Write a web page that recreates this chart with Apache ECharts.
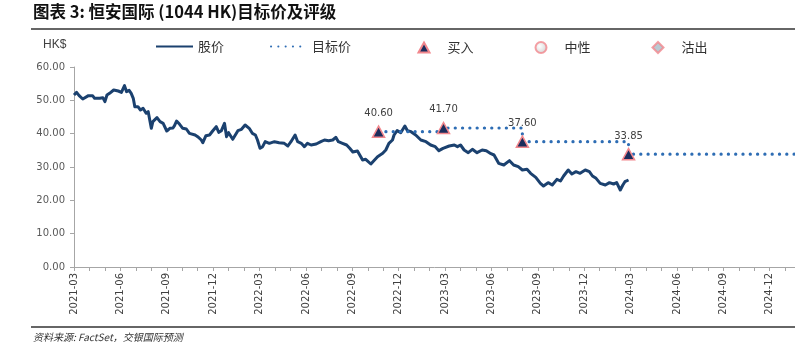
<!DOCTYPE html>
<html><head><meta charset="utf-8">
<script src="https://cdn.jsdelivr.net/npm/echarts@6/dist/echarts.min.js"></script>
<style>html,body{margin:0;padding:0;background:#fff}#c{width:795px;height:353px}</style>
</head><body><div id="c"></div>
<script>
const titleText = '图表 3: 恒安国际 (1044 HK)目标价及评级';
const sourceText = '资料来源: FactSet，交银国际预测';
const unitText = 'HK$';
const seriesNames = ['股价', '目标价', '买入', '中性', '沽出'];

const priceDates = [
'2021-03-01','2021-03-06','2021-03-11','2021-03-18','2021-03-29','2021-04-07','2021-04-11','2021-04-21','2021-04-27','2021-05-01',
'2021-05-05','2021-05-10','2021-05-18','2021-05-27','2021-06-03','2021-06-09','2021-06-13','2021-06-18','2021-06-22','2021-06-26',
'2021-06-29','2021-07-05','2021-07-10','2021-07-15','2021-07-21','2021-07-25','2021-07-31','2021-08-04','2021-08-12','2021-08-18',
'2021-08-24','2021-08-31','2021-09-07','2021-09-13','2021-09-16','2021-09-20','2021-09-26','2021-10-02','2021-10-09','2021-10-15',
'2021-10-26','2021-11-01','2021-11-08','2021-11-11','2021-11-17','2021-11-24','2021-11-30','2021-12-07','2021-12-12','2021-12-17',
'2021-12-23','2021-12-27','2022-01-01','2022-01-09','2022-01-19','2022-01-26','2022-02-03','2022-02-11','2022-02-17','2022-02-23',
'2022-02-27','2022-03-02','2022-03-07','2022-03-12','2022-03-20','2022-03-30','2022-04-09','2022-04-19','2022-04-26','2022-05-02',
'2022-05-05','2022-05-10','2022-05-15','2022-05-22','2022-05-28','2022-06-04','2022-06-11','2022-06-21','2022-06-30','2022-07-07',
'2022-07-15','2022-07-23','2022-07-29','2022-08-04','2022-08-12','2022-08-20','2022-08-26','2022-09-02','2022-09-11','2022-09-21',
'2022-09-27','2022-10-07','2022-10-11','2022-10-20','2022-10-30','2022-11-06','2022-11-12','2022-11-19','2022-11-22','2022-11-28',
'2022-12-05','2022-12-13','2022-12-18','2022-12-25','2023-01-04','2023-01-14','2023-01-24','2023-02-03','2023-02-12','2023-02-19',
'2023-02-27','2023-03-09','2023-03-19','2023-03-25','2023-04-01','2023-04-08','2023-04-16','2023-04-24','2023-05-03','2023-05-13',
'2023-05-21','2023-05-30','2023-06-06','2023-06-15','2023-06-25','2023-07-06','2023-07-14','2023-07-23','2023-07-31','2023-08-10',
'2023-08-17','2023-08-27','2023-09-06','2023-09-12','2023-09-21','2023-09-29','2023-10-08','2023-10-15','2023-10-21','2023-10-30',
'2023-11-07','2023-11-15','2023-11-23','2023-12-03','2023-12-11','2023-12-17','2023-12-24','2024-01-02','2024-01-12','2024-01-20',
'2024-01-28','2024-02-04','2024-02-11','2024-02-16','2024-02-20','2024-02-27'
];
const priceValues = [
51.6,52.4,51.4,50.4,51.4,51.4,50.6,50.6,50.8,49.6,
51.6,52.1,53.1,52.8,52.4,54.4,52.6,53.0,52.1,50.6,
48.1,48.1,47.1,47.6,46.1,46.6,41.6,43.6,44.8,43.6,
43.1,40.8,41.6,41.7,42.4,43.8,42.8,41.6,41.4,40.1,
39.6,39.1,38.1,37.3,39.4,39.6,40.8,42.1,40.4,40.9,
43.1,39.1,40.3,38.3,40.9,41.3,42.6,41.6,40.1,39.6,
38.1,35.6,36.1,37.6,37.1,37.6,37.3,37.1,36.3,37.6,
37.3,39.6,37.6,37.1,36.1,37.1,36.6,36.9,37.6,38.1,
37.9,38.1,38.9,37.6,37.1,36.6,35.6,34.5,34.8,32.1,
32.3,30.9,31.6,33.1,34.1,35.1,37.1,38.1,39.6,40.9,
40.3,42.3,40.9,40.6,39.6,38.1,37.6,36.6,36.1,34.9,
35.6,36.3,36.6,36.1,36.6,35.1,34.3,35.3,34.3,35.1,
34.9,34.0,33.6,31.1,30.6,31.9,30.6,30.1,29.1,29.3,
28.1,26.9,25.1,24.3,25.3,24.6,26.3,25.8,27.3,29.1,
27.9,28.6,28.1,29.1,28.6,27.3,26.6,25.1,24.6,25.3,
24.9,25.3,23.1,24.6,25.6,26.1
];
const ratingDates = ['2022-10-22', '2023-02-28', '2023-07-31', '2024-02-27'];
const targetPrices = [40.60, 41.70, 37.60, 33.85];
const targetEndDate = '2025-01-20';
const yMin = 0, yMax = 60, yStep = 10;

function monthIndex(s) {
  const p = s.split('-').map(Number);
  return (p[0] - 2021) * 12 + (p[1] - 3) + (p[2] - 1) / 30;
}
function monthLabel(v) {
  const t = 2 + Math.round(v);
  const y = 2021 + Math.floor(t / 12);
  const m = t % 12 + 1;
  return y + '-' + String(m).padStart(2, '0');
}

const priceData = priceDates.map((d, i) => [monthIndex(d), priceValues[i]]);
const buyData = ratingDates.map((d, i) => [monthIndex(d), targetPrices[i]]);
const xEnd = monthIndex(targetEndDate);
const targetData = buyData.concat([[xEnd, targetPrices[targetPrices.length - 1]]]);

const pink = '#f2878d';
const legendText = {fontFamily: 'Noto Sans CJK SC', fontSize: 13, color: '#333'};
const hiddenSym = {opacity: 0, color: 'transparent', borderWidth: 0};

const chart = echarts.init(document.getElementById('c'), null, {renderer: 'canvas'});
chart.setOption({
  animation: false,
  backgroundColor: '#fff',
  grid: {left: 74, top: 67, right: 0, height: 200, containLabel: false},
  legend: [
    {data: [seriesNames[0]], left: 150, top: 35, itemWidth: 37, itemHeight: 14, itemStyle: hiddenSym, textStyle: legendText, selectedMode: false},
    {data: [seriesNames[1]], left: 265, top: 35, itemWidth: 36, itemHeight: 14, itemStyle: hiddenSym, textStyle: legendText, selectedMode: false},
    {data: [seriesNames[2]], left: 412.5, top: 36, itemWidth: 11, itemHeight: 10, textStyle: Object.assign({padding: [0, 0, 0, 13]}, legendText), selectedMode: false},
    {data: [seriesNames[3]], left: 529.5, top: 36, itemWidth: 11, itemHeight: 11, textStyle: Object.assign({padding: [0, 0, 0, 13]}, legendText), selectedMode: false},
    {data: [seriesNames[4]], left: 646.5, top: 36, itemWidth: 11, itemHeight: 11, textStyle: Object.assign({padding: [0, 0, 0, 13]}, legendText), selectedMode: false}
  ],
  xAxis: {
    type: 'value', min: 0, max: xEnd, interval: 1,
    splitLine: {show: false},
    axisLine: {show: true, lineStyle: {color: '#a6a6a6', width: 1}},
    axisTick: {show: true, length: 4, lineStyle: {color: '#a6a6a6'}},
    axisLabel: {
      rotate: 90, margin: 6, fontFamily: 'DejaVu Sans', fontSize: 10, color: '#404040',
      showMinLabel: true, showMaxLabel: true, hideOverlap: false,
      formatter: v => (Math.abs(v - Math.round(v)) < 1e-6 && Math.round(v) % 3 === 0 ? monthLabel(v) : '')
    }
  },
  yAxis: {
    type: 'value', min: yMin, max: yMax, interval: yStep,
    splitLine: {show: false},
    axisLine: {show: true, lineStyle: {color: '#a6a6a6', width: 1}},
    axisTick: {show: true, length: 4, lineStyle: {color: '#a6a6a6'}},
    axisLabel: {margin: 9, fontFamily: 'DejaVu Sans', fontSize: 10, color: '#595959', formatter: v => v.toFixed(2)}
  },
  series: [
    {
      name: seriesNames[0], type: 'line', data: priceData, symbol: 'none', smooth: false,
      lineStyle: {color: '#1b416f', width: 3, join: 'round'}, itemStyle: {color: '#1b416f'}, z: 2
    },
    {
      name: seriesNames[1], type: 'line', data: targetData, symbol: 'none', step: 'end',
      lineStyle: {color: '#2e6db4', width: 3.2, type: [0.1, 7.2], cap: 'round'}, itemStyle: {color: '#2e6db4'}, z: 3
    },
    {
      name: seriesNames[2], type: 'scatter', data: buyData, symbol: 'triangle', symbolSize: [12, 11],
      itemStyle: {color: '#1c2d5c', borderColor: pink, borderWidth: 1.5, opacity: 1},
      label: {show: true, position: 'top', distance: 7, fontFamily: 'DejaVu Sans', fontSize: 10, color: '#404040',
        formatter: p => p.value[1].toFixed(2)},
      z: 5
    },
    {
      name: seriesNames[3], type: 'scatter', data: [], symbol: 'circle', symbolSize: 10,
      itemStyle: {color: {type: 'radial', x: 0.4, y: 0.4, r: 0.6, colorStops: [{offset: 0, color: '#ffffff'}, {offset: 1, color: '#c9c9c9'}]},
        borderColor: pink, borderWidth: 1.5}
    },
    {
      name: seriesNames[4], type: 'scatter', data: [], symbol: 'diamond', symbolSize: 10,
      itemStyle: {color: '#a9bcc7', borderColor: pink, borderWidth: 1.5}
    }
  ],
  graphic: [
    {type: 'text', left: 33, top: 3, style: {text: titleText, fontFamily: 'Noto Sans CJK SC', fontWeight: 'bold', fontSize: 16.5, fill: '#111'}},
    {type: 'line', shape: {x1: 31, y1: 29, x2: 795, y2: 29}, style: {stroke: '#333', lineWidth: 1.5}},
    {type: 'text', left: 43, top: 39, style: {text: unitText, fontFamily: 'Liberation Sans', fontSize: 12, fill: '#404040'}},
    {type: 'line', shape: {x1: 31, y1: 327, x2: 795, y2: 327}, style: {stroke: '#333', lineWidth: 1.5}},
    {type: 'text', left: 33, top: 332, style: {text: sourceText, fontFamily: 'Noto Sans CJK SC', fontStyle: 'italic', fontSize: 10, fill: '#333'}}
  ]
});
</script>
</body></html>
